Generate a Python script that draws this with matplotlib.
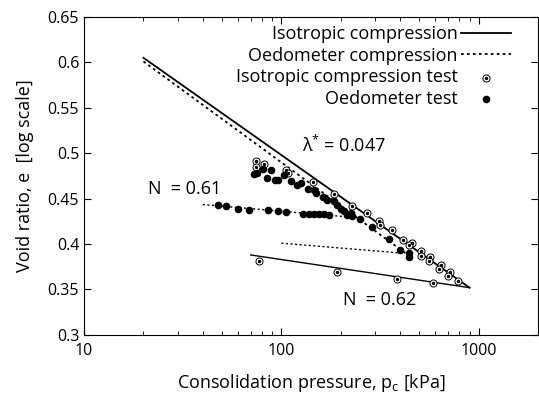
import numpy as np
import matplotlib
matplotlib.use("Agg")
import matplotlib.pyplot as plt
from matplotlib.ticker import FixedLocator, FixedFormatter, LogLocator, NullFormatter

plt.rcParams["font.family"] = ["Open Sans", "DejaVu Sans"]
plt.rcParams["mathtext.fontset"] = "custom"
plt.rcParams["mathtext.rm"] = "Open Sans"
plt.rcParams["mathtext.it"] = "Open Sans"

# Isotropic compression test, loading branch (p in kPa, void ratio e)
iso_load_p = [74, 74, 82, 106, 108, 144, 185, 229, 273, 313, 318, 362, 413,
              460, 445, 513, 508, 570, 559, 646, 628, 719, 697, 785]
iso_load_e = [0.491, 0.485, 0.488, 0.482, 0.478, 0.468, 0.455, 0.442, 0.434,
              0.425, 0.421, 0.416, 0.405, 0.401, 0.399, 0.392, 0.387, 0.386,
              0.381, 0.377, 0.372, 0.369, 0.365, 0.359]
# Isotropic unloading
iso_unload_p = [77, 192, 384, 587]
iso_unload_e = [0.381, 0.369, 0.361, 0.357]

# Oedometer test, loading branch
oed_load_p = [73, 75, 80.5, 85, 88.7, 93, 96, 103.5, 112, 119.5, 125.6, 136,
              147, 150, 162, 171, 185, 192, 200, 208, 216, 225, 229, 252, 287,
              351, 402, 443, 446]
oed_load_e = [0.477, 0.478, 0.483, 0.473, 0.481, 0.470, 0.470, 0.476, 0.469,
              0.465, 0.467, 0.461, 0.460, 0.456, 0.452, 0.449, 0.447, 0.443,
              0.439, 0.436, 0.432, 0.434, 0.431, 0.428, 0.419, 0.406, 0.394,
              0.390, 0.386]
# Oedometer unloading
oed_unload_p = [47.6, 52.5, 60, 68.8, 85.3, 95.8, 106, 129, 138, 147, 156,
                165, 175]
oed_unload_e = [0.443, 0.442, 0.439, 0.438, 0.437, 0.436, 0.435, 0.433,
                0.433, 0.433, 0.433, 0.433, 0.432]

# Model lines
iso_ncl_p, iso_ncl_e = [20, 900], [0.605, 0.352]
oed_ncl_p, oed_ncl_e = [20, 445], [0.601, 0.387]
iso_url_p, iso_url_e = [70, 900], [0.388, 0.352]
oed_url_p, oed_url_e = [40, 215], [0.4435, 0.430]
oed_url2_p, oed_url2_e = [100, 410], [0.401, 0.390]

fig = plt.figure(figsize=(5.39, 3.94), dpi=100)
ax = fig.add_axes([0.156, 0.150, 0.842, 0.807])

dot = (0, (1.5, 1.8))
ax.plot(iso_ncl_p, iso_ncl_e, color="black", lw=1.3, label="Isotropic compression")
ax.plot(oed_ncl_p, oed_ncl_e, color="black", lw=1.3, ls=dot, label="Oedometer compression")
ax.plot(iso_url_p, iso_url_e, color="black", lw=1.0)
ax.plot(oed_url_p, oed_url_e, color="black", lw=1.0, ls=dot)
ax.plot(oed_url2_p, oed_url2_e, color="black", lw=1.0, ls=dot)

# Open circles with a centre dot
iso_p = iso_load_p + iso_unload_p
iso_e = iso_load_e + iso_unload_e
ax.scatter(iso_p, iso_e, s=26, facecolors="white", edgecolors="black", linewidths=0.7, zorder=3)
ax.scatter(iso_p, iso_e, s=2, color="black", zorder=4)
ax.scatter(oed_load_p + oed_unload_p, oed_load_e + oed_unload_e, s=20, color="black", zorder=3)

# Legend handles
h_iso = ax.scatter([], [], s=26, facecolors="white", edgecolors="black", linewidths=0.7)
h_oed = ax.scatter([], [], s=20, color="black")
handles, labels = ax.get_legend_handles_labels()
handles = handles[:2] + [(h_iso, ax.scatter([], [], s=2, color="black")), h_oed]
labels = labels[:2] + ["Isotropic compression test", "Oedometer test"]
ax.legend(handles, labels, loc="upper right", frameon=False, markerfirst=False,
          fontsize=13, handlelength=2.8, handletextpad=0.15, labelspacing=0.2,
          borderaxespad=0.0, bbox_to_anchor=(0.957, 0.997))

ax.text(128, 0.502, r"λ$^{*}$ = 0.047", fontsize=13)
ax.text(21, 0.455, "N  = 0.61", fontsize=13)
ax.text(205, 0.333, "N  = 0.62", fontsize=13)

ax.set_xscale("log")
ax.set_xlim(10, 2000)
ax.set_ylim(0.3, 0.65)
ax.xaxis.set_major_locator(FixedLocator([10, 100, 1000]))
ax.xaxis.set_major_formatter(FixedFormatter(["10", "100", "1000"]))
ax.xaxis.set_minor_locator(LogLocator(base=10, subs=np.arange(2, 10)))
ax.xaxis.set_minor_formatter(NullFormatter())
ax.set_yticks(np.arange(0.3, 0.651, 0.05))
ax.set_yticklabels(["0.3", "0.35", "0.4", "0.45", "0.5", "0.55", "0.6", "0.65"])
ax.tick_params(which="both", direction="in", top=True, right=True, labelsize=11.5)
ax.tick_params(which="major", length=5)
ax.tick_params(which="minor", length=3)
ax.tick_params(axis="x", pad=6)

ax.set_xlabel(r"Consolidation pressure, p$_\mathrm{c}$ [kPa]", fontsize=13, labelpad=9)
ax.set_ylabel("Void ratio, e  [log scale]", fontsize=13, labelpad=10)

fig.savefig("out.png", dpi=100)
